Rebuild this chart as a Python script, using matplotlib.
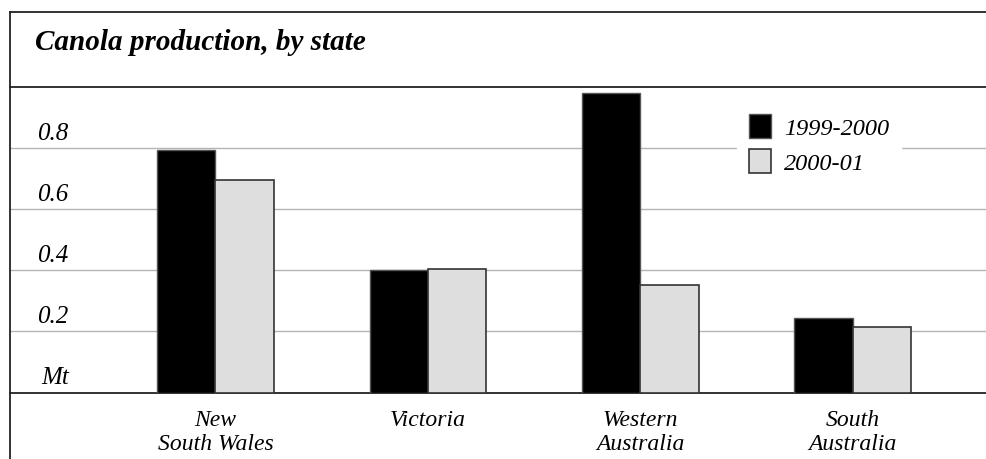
import numpy as np
import matplotlib
matplotlib.use('Agg')
import matplotlib.pyplot as plt
from matplotlib.lines import Line2D
from matplotlib.patches import Patch
import matplotlib.transforms as mtransforms

# Canola production (Mt) by state
states = ['New\nSouth Wales', 'Victoria', 'Western\nAustralia', 'South\nAustralia']
prod_1999 = [0.795, 0.40, 0.98, 0.245]
prod_2000 = [0.697, 0.405, 0.353, 0.215]
yticks = [0.2, 0.4, 0.6, 0.8]
seasons = ['1999-2000', '2000-01']

plt.rcParams['font.family'] = ['Liberation Serif', 'DejaVu Serif']

W, H = 987, 460
fig = plt.figure(figsize=(W / 100, H / 100), dpi=100)
fig.patch.set_facecolor('white')

# axes sits between the title rule and the baseline
ax = fig.add_axes([10 / W, (H - 393.5) / H, 1 - 10 / W, (393.5 - 88) / H])

X = np.arange(len(states))
w = 0.275
ax.bar(X - w / 2, prod_1999, w, color='black', edgecolor='#555555', linewidth=1, zorder=3)
ax.bar(X + w / 2, prod_2000, w, color='#dedede', edgecolor='#333333', linewidth=1.2, zorder=3)

ax.set_xlim(-0.967, 3.631)
ax.set_ylim(0, 1.0)

for y in yticks:
    ax.axhline(y, color='#b4b4b4', linewidth=1, zorder=1)

ax.set_yticks([])
ax.set_xticks(X)
ax.set_xticklabels(states, fontsize=17, style='italic', linespacing=1.15)
ax.tick_params(axis='x', length=0, pad=12)

for side in ['left', 'right']:
    ax.spines[side].set_visible(False)
ax.spines['top'].set_linewidth(1.3)
ax.spines['bottom'].set_linewidth(1.3)
ax.spines['top'].set_color('#222222')
ax.spines['bottom'].set_color('#222222')

# value labels sit just above each gridline
lab_trans = mtransforms.offset_copy(ax.get_yaxis_transform(), fig=fig, x=0, y=4, units='dots')
xlab = 27 / (W - 10)
for y in yticks:
    ax.text(xlab, y, f'{y:.1f}', transform=lab_trans, fontsize=18, style='italic',
            ha='left', va='bottom')
ax.text(31 / (W - 10), 0, 'Mt', transform=lab_trans, fontsize=18, style='italic',
        ha='left', va='bottom')

handles = [Patch(facecolor='black', edgecolor='#555555'),
           Patch(facecolor='#dedede', edgecolor='#333333', linewidth=1.2)]
leg = ax.legend(handles, seasons, loc='upper left', bbox_to_anchor=(737 / W, (H - 103) / H),
                bbox_transform=fig.transFigure, frameon=True, fancybox=False,
                fontsize=17.5, handlelength=0.88, handleheight=1.15, labelspacing=0.4,
                handletextpad=0.55, borderpad=0.5, borderaxespad=0)
leg.get_frame().set_edgecolor('white')
leg.get_frame().set_facecolor('white')
leg.get_frame().set_alpha(1)
for t in leg.get_texts():
    t.set_style('italic')
leg.set_zorder(5)

# outer frame and title
fig.add_artist(Line2D([10 / W, 1], [(H - 13) / H] * 2, color='#222222', linewidth=1.3))
fig.add_artist(Line2D([10 / W] * 2, [0, (H - 13) / H], color='#222222', linewidth=1.3))
fig.text(35 / W, (H - 50) / H, 'Canola production, by state', fontsize=21,
         weight='bold', style='italic', ha='left', va='baseline')

fig.savefig('out.png', dpi=100)
